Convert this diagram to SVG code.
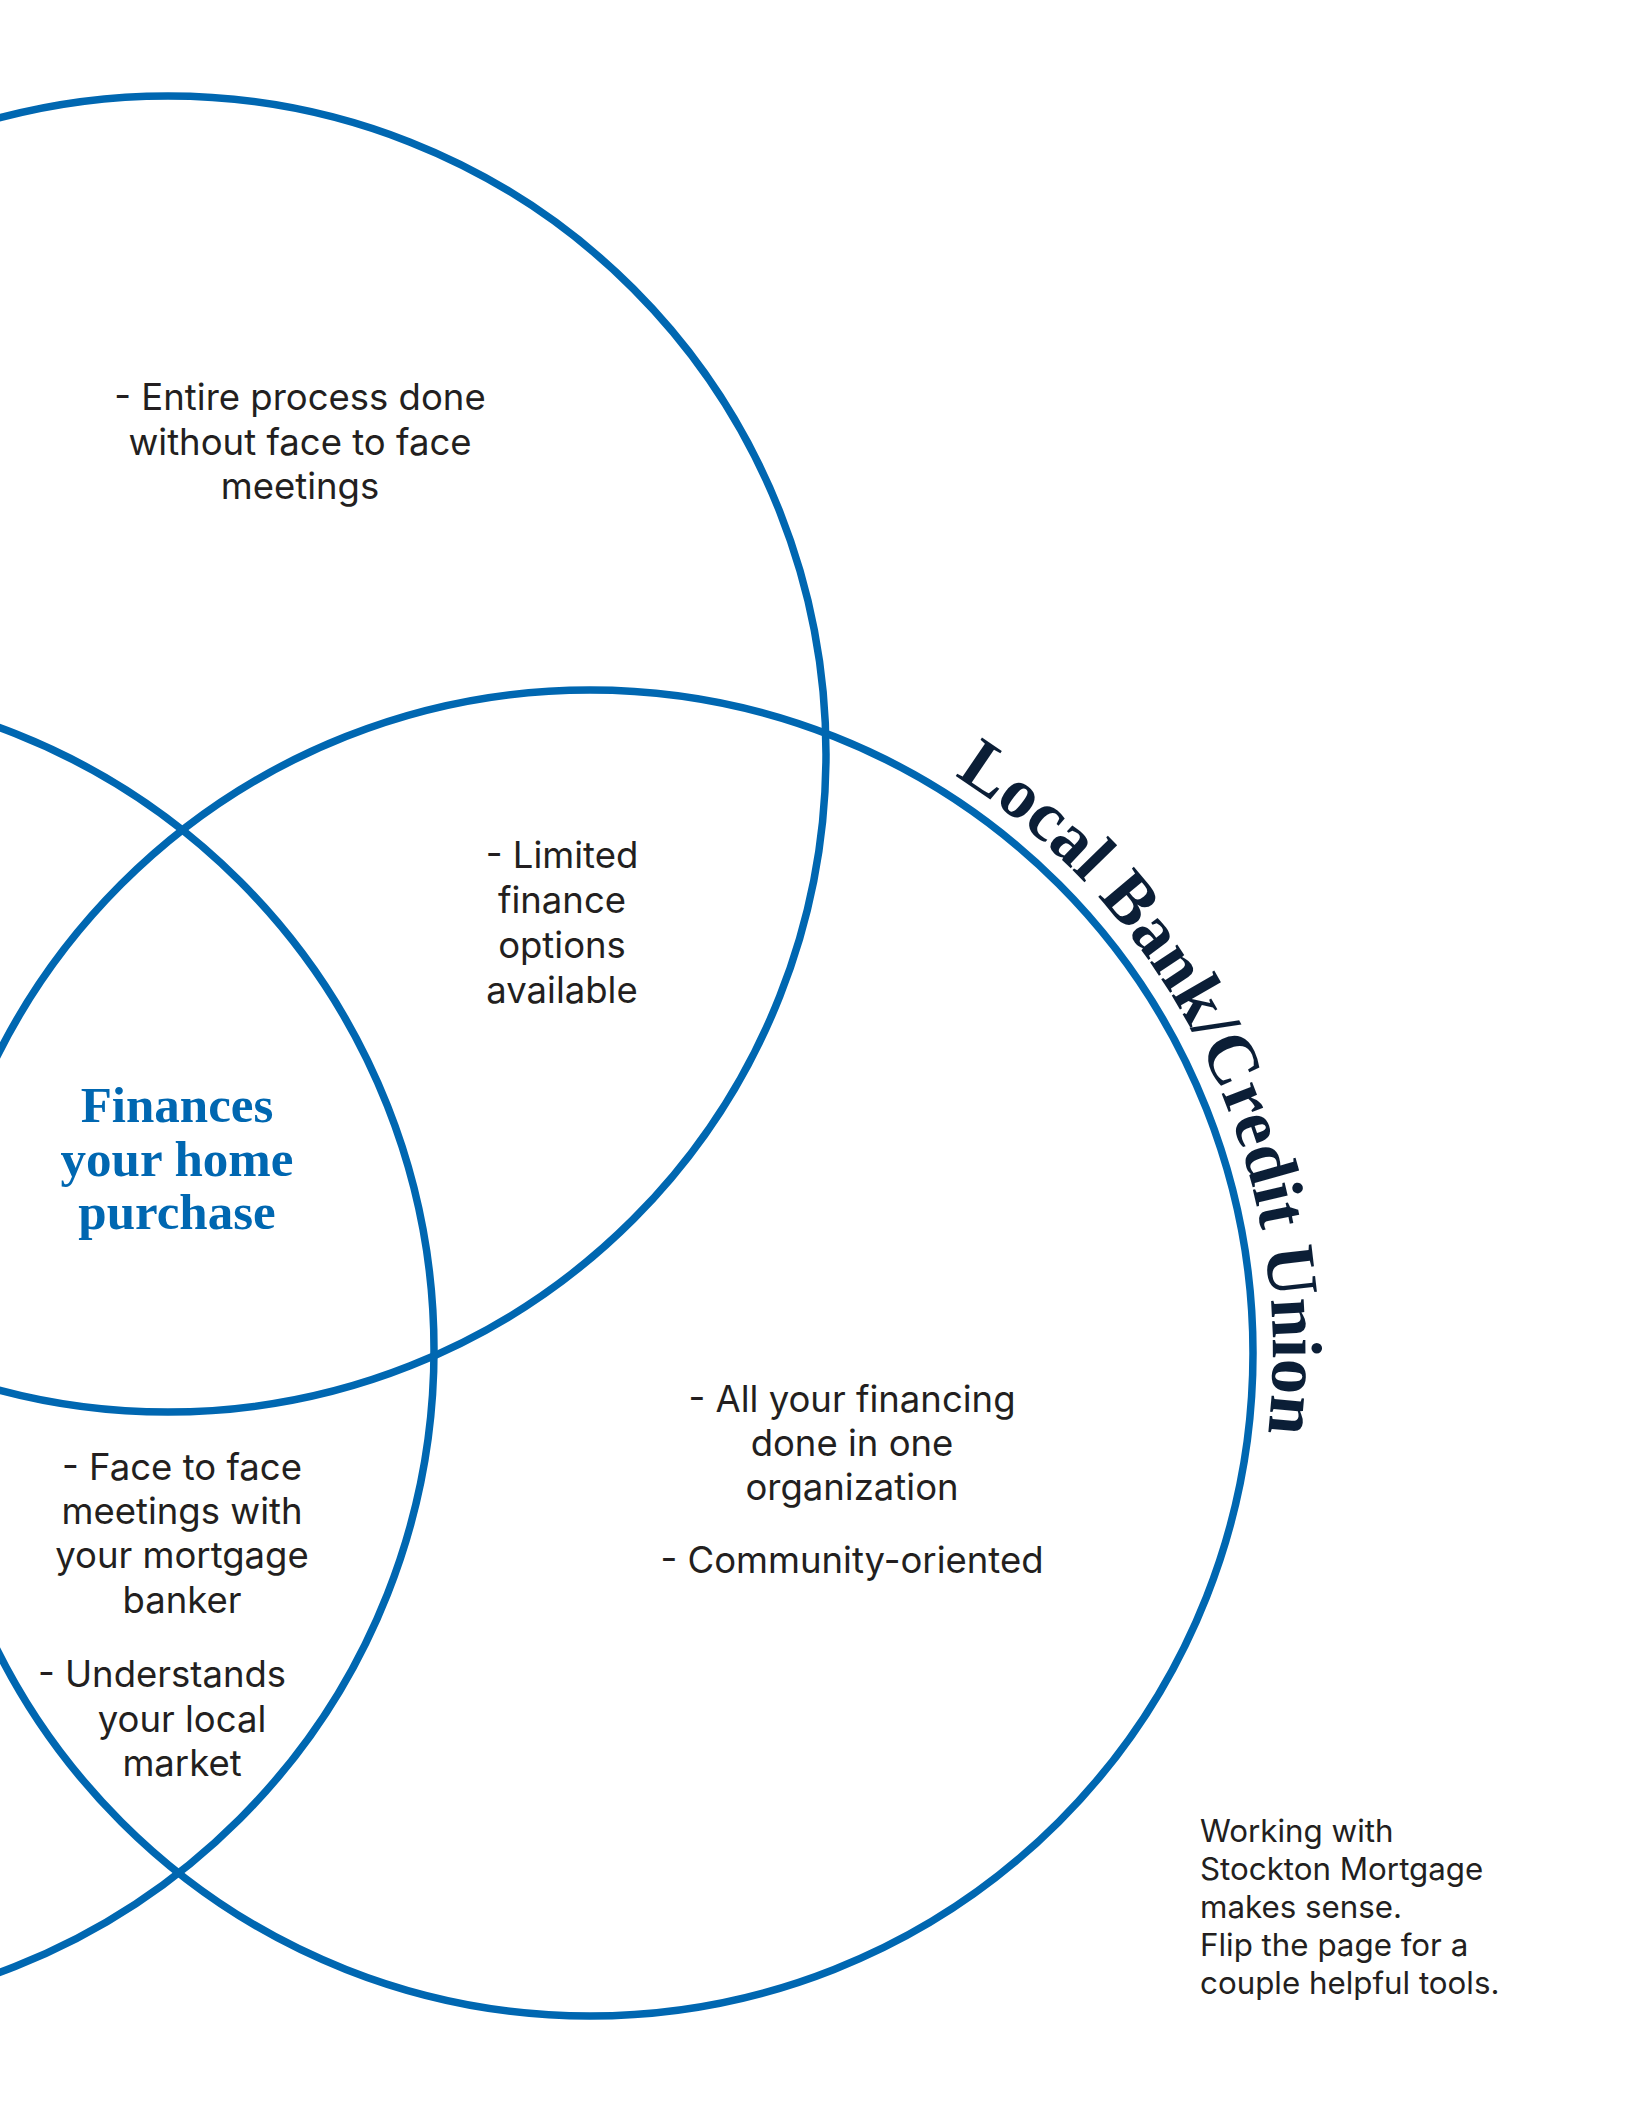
<svg xmlns="http://www.w3.org/2000/svg" width="1632" height="2112" viewBox="0 0 1632 2112">
<style>
.ring{fill:none;stroke:#0067b1;stroke-width:7.5}
.body{font-family:Inter,"Liberation Sans",sans-serif;font-size:36.5px;fill:#231f20;text-anchor:middle}
.small{font-family:Inter,"Liberation Sans",sans-serif;font-size:31.3px;fill:#231f20}
.head{font-family:"Liberation Serif",serif;font-weight:bold;font-size:51px;fill:#0067b1;text-anchor:middle}
.arc{font-family:"Liberation Serif",serif;font-weight:bold;font-size:71px;fill:#0b1e36}
</style>
<defs>
<path id="arcPath" d="M407.5,694.9 A683,683 0 0 1 986.6,1909"/>
</defs>
<rect width="1632" height="2112" fill="#ffffff"/>
<g id="connectors"></g>
<g id="circle-online"><circle class="ring" cx="168" cy="754" r="658"/></g>
<g id="circle-bank"><circle class="ring" cx="590" cy="1353" r="663"/></g>
<g id="circle-mortgage"><circle class="ring" cx="-229" cy="1350" r="663"/></g>
<g id="label-bank">
<text class="arc"><textPath href="#arcPath" startOffset="50%" text-anchor="middle">Local Bank/Credit Union</textPath></text>
</g>
<g id="text-online">
<text class="body" x="300" y="410">- Entire process done</text>
<text class="body" x="300" y="454.5">without face to face</text>
<text class="body" x="300" y="499">meetings</text>
</g>
<g id="text-limited">
<text class="body" x="562" y="868">- Limited</text>
<text class="body" x="562" y="913">finance</text>
<text class="body" x="562" y="958">options</text>
<text class="body" x="562" y="1003">available</text>
</g>
<g id="text-center">
<text class="head" x="177" y="1122">Finances</text>
<text class="head" x="177" y="1176">your home</text>
<text class="head" x="177" y="1229">purchase</text>
</g>
<g id="text-bank">
<text class="body" x="852" y="1412">- All your financing</text>
<text class="body" x="852" y="1456">done in one</text>
<text class="body" x="852" y="1500">organization</text>
<text class="body" x="852" y="1573">- Community-oriented</text>
</g>
<g id="text-mortgage">
<text class="body" x="182" y="1480">- Face to face</text>
<text class="body" x="182" y="1524">meetings with</text>
<text class="body" x="182" y="1568">your mortgage</text>
<text class="body" x="182" y="1613">banker</text>
<text class="body" x="162" y="1687">- Understands</text>
<text class="body" x="182" y="1732">your local</text>
<text class="body" x="182" y="1776">market</text>
</g>
<g id="note">
<text class="small" x="1200" y="1842">Working with</text>
<text class="small" x="1200" y="1880">Stockton Mortgage</text>
<text class="small" x="1200" y="1918">makes sense.</text>
<text class="small" x="1200" y="1956">Flip the page for a</text>
<text class="small" x="1200" y="1994">couple helpful tools.</text>
</g>
</svg>
